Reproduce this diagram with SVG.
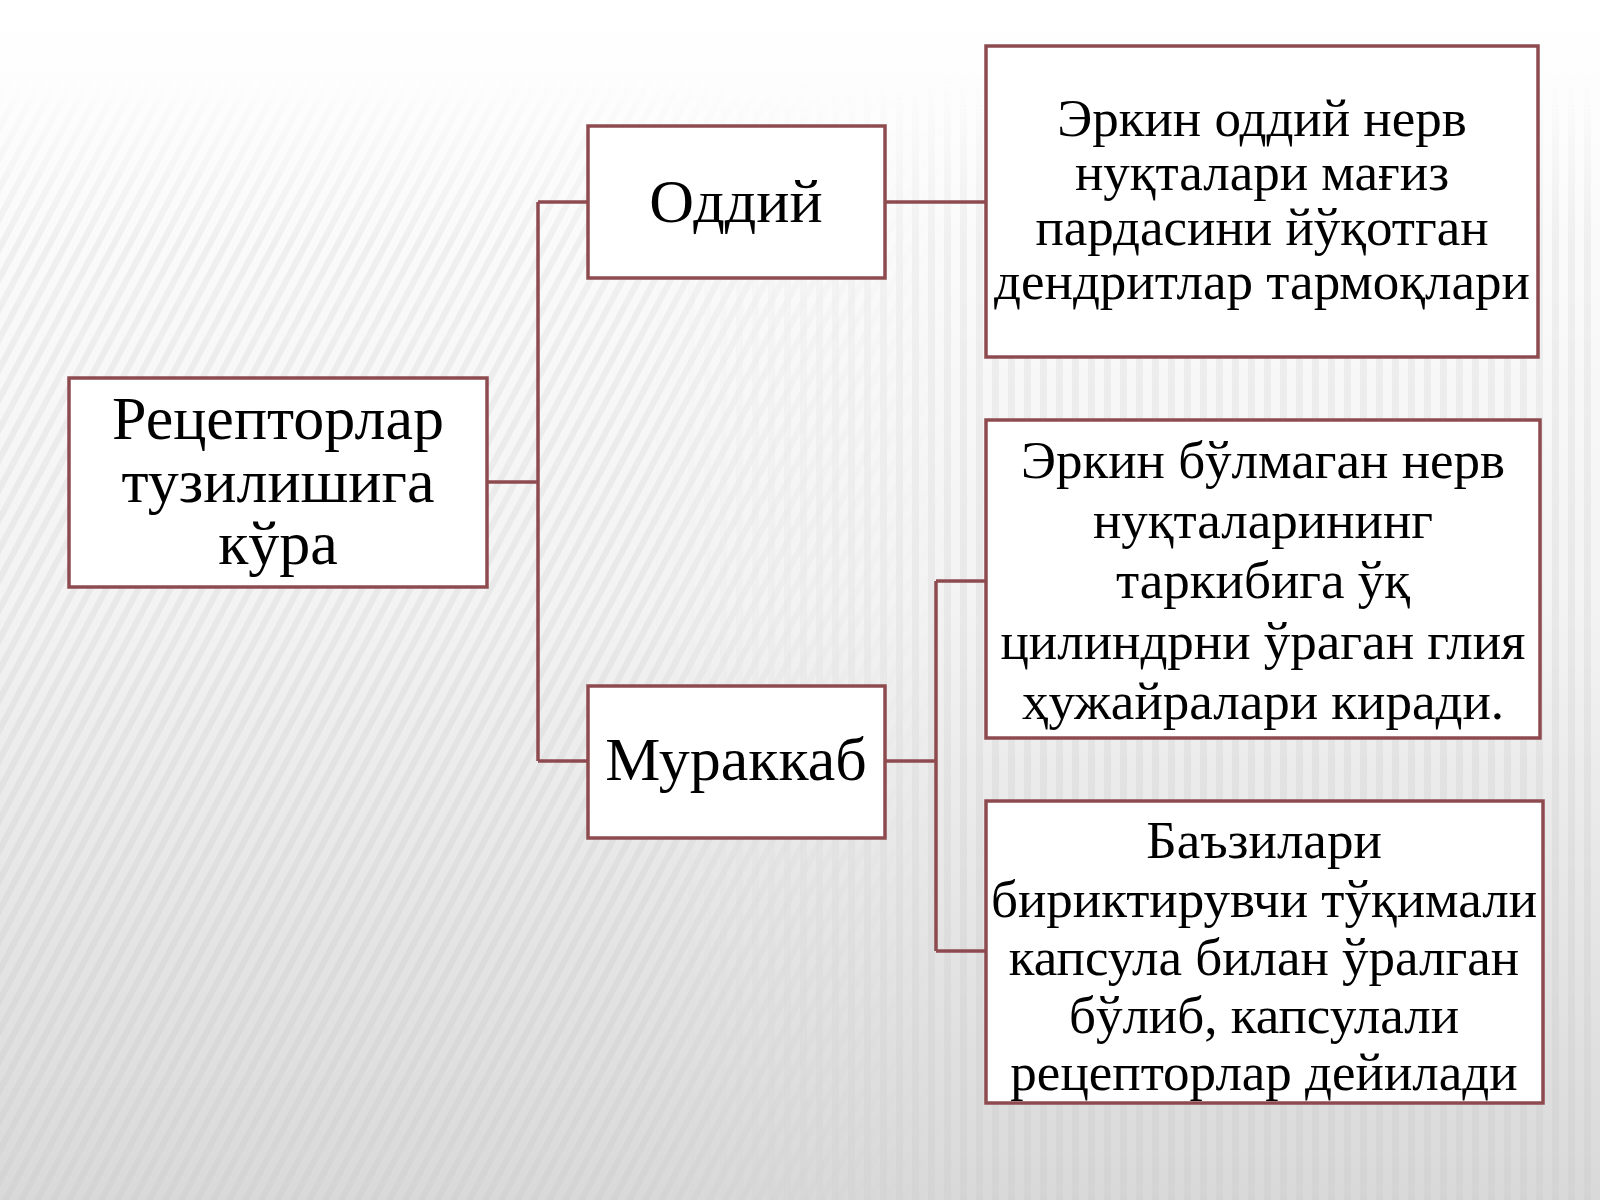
<svg xmlns="http://www.w3.org/2000/svg" width="1600" height="1200" viewBox="0 0 1600 1200">
<defs>
<linearGradient id="bg" x1="0" y1="0" x2="0" y2="1">
<stop offset="0" stop-color="#ffffff"/>
<stop offset="0.5" stop-color="#f3f3f3"/>
<stop offset="1" stop-color="#d9d9d9"/>
</linearGradient>
<pattern id="stripesD" width="16" height="16" patternUnits="userSpaceOnUse" patternTransform="skewX(-28)">
<rect x="0" y="0" width="7" height="16" fill="#c8c8c8"/>
</pattern>
<pattern id="stripesV" width="16" height="16" patternUnits="userSpaceOnUse">
<rect x="0" y="0" width="7" height="16" fill="#c8c8c8"/>
</pattern>
<linearGradient id="fadeTop" x1="0" y1="0" x2="0" y2="1">
<stop offset="0" stop-color="#fff" stop-opacity="0"/>
<stop offset="0.06" stop-color="#fff" stop-opacity="0"/>
<stop offset="0.2" stop-color="#fff" stop-opacity="0.7"/>
<stop offset="1" stop-color="#fff" stop-opacity="1"/>
</linearGradient>
<linearGradient id="fadeL" x1="0" y1="0" x2="1" y2="0">
<stop offset="0" stop-color="#fff" stop-opacity="1"/>
<stop offset="0.4" stop-color="#fff" stop-opacity="1"/>
<stop offset="0.6" stop-color="#fff" stop-opacity="0"/>
</linearGradient>
<linearGradient id="fadeR" x1="0" y1="0" x2="1" y2="0">
<stop offset="0.4" stop-color="#fff" stop-opacity="0"/>
<stop offset="0.6" stop-color="#fff" stop-opacity="1"/>
<stop offset="1" stop-color="#fff" stop-opacity="1"/>
</linearGradient>
<mask id="m">
<rect width="1600" height="1200" fill="url(#fadeTop)"/>
</mask>
<mask id="mL" maskContentUnits="userSpaceOnUse">
<rect width="1600" height="1200" fill="url(#fadeL)"/>
</mask>
<mask id="mR" maskContentUnits="userSpaceOnUse">
<rect width="1600" height="1200" fill="url(#fadeR)"/>
</mask>
</defs>
<style>
.box{fill:#ffffff;stroke:#8e4b4f;stroke-width:3.5}
.con{fill:none;stroke:#8e4b4f;stroke-width:3.5}
.t{font-family:"Liberation Serif","Times New Roman",serif;fill:#000;text-anchor:middle}
.big{font-size:62px}
.sm{font-size:53px}
</style>
<rect width="1600" height="1200" fill="url(#bg)"/>
<g mask="url(#m)" opacity="0.3">
<rect x="0" y="0" width="1600" height="1200" fill="url(#stripesD)" mask="url(#mL)"/>
<rect x="0" y="0" width="1600" height="1200" fill="url(#stripesV)" mask="url(#mR)"/>
</g>
<g id="connectors">
<path class="con" d="M487 482 H538 M538 202 V761 M538 202 H588 M538 761 H588"/>
<path class="con" d="M885 202 H986"/>
<path class="con" d="M885 761 H936 M936 581 V951 M936 581 H986 M936 951 H986"/>
</g>
<g id="root">
<rect class="box" x="69" y="378" width="418" height="209"/>
<text class="t big" x="278" y="439">Рецепторлар</text>
<text class="t big" x="278" y="502">тузилишига</text>
<text class="t big" x="278" y="564">кўра</text>
</g>
<g id="oddiy">
<rect class="box" x="588" y="126" width="297" height="152"/>
<text class="t big" x="736" y="222">Оддий</text>
</g>
<g id="murakkab">
<rect class="box" x="588" y="686" width="297" height="152"/>
<text class="t big" x="736" y="780">Мураккаб</text>
</g>
<g id="box1">
<rect class="box" x="986" y="46" width="552" height="311"/>
<text class="t sm" x="1262" y="136">Эркин оддий нерв</text>
<text class="t sm" x="1262" y="190">нуқталари мағиз</text>
<text class="t sm" x="1262" y="245">пардасини йўқотган</text>
<text class="t sm" x="1262" y="299">дендритлар тармоқлари</text>
</g>
<g id="box2">
<rect class="box" x="986" y="420" width="554" height="318"/>
<text class="t sm" x="1263" y="478">Эркин бўлмаган нерв</text>
<text class="t sm" x="1263" y="538">нуқталарининг</text>
<text class="t sm" x="1263" y="598">таркибига ўқ</text>
<text class="t sm" x="1263" y="659">цилиндрни ўраган глия</text>
<text class="t sm" x="1263" y="719">ҳужайралари киради.</text>
</g>
<g id="box3">
<rect class="box" x="986" y="801" width="557" height="302"/>
<text class="t sm" x="1264" y="858">Баъзилари</text>
<text class="t sm" x="1264" y="917">бириктирувчи тўқимали</text>
<text class="t sm" x="1264" y="975">капсула билан ўралган</text>
<text class="t sm" x="1264" y="1033">бўлиб, капсулали</text>
<text class="t sm" x="1264" y="1090">рецепторлар дейилади</text>
</g>
</svg>
